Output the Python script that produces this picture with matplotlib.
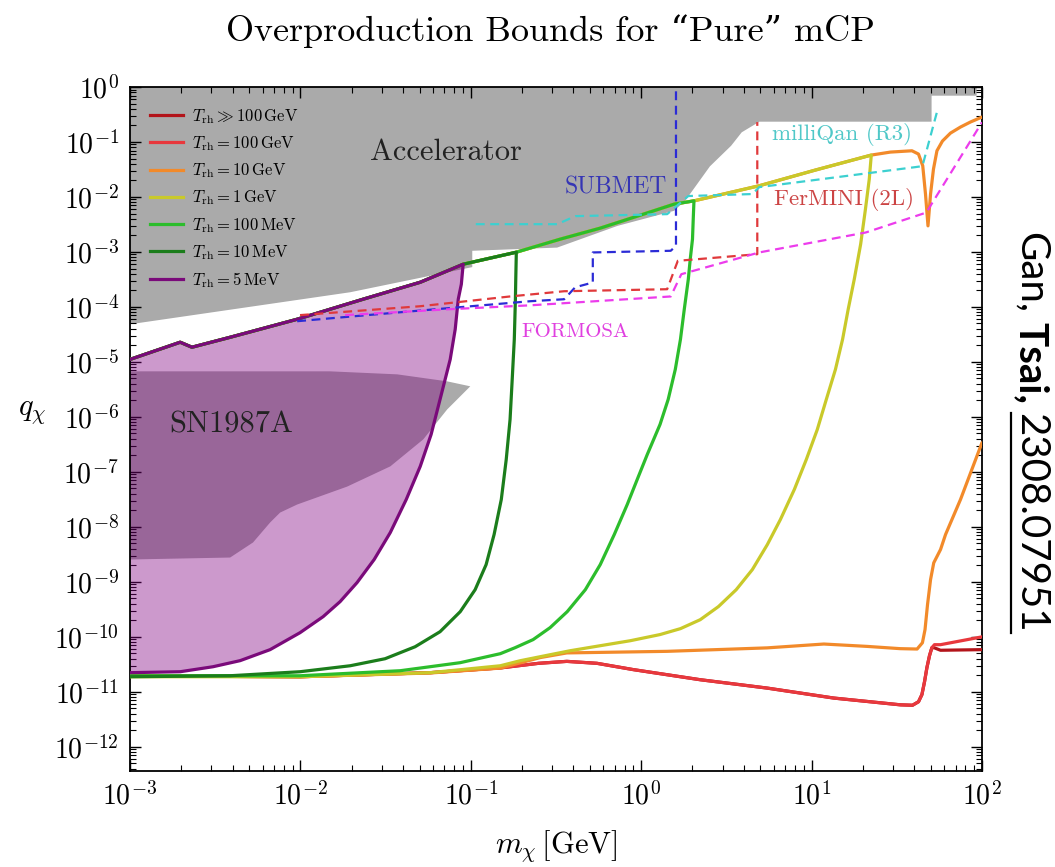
import numpy as np
import matplotlib
matplotlib.use("Agg")
import matplotlib.pyplot as plt
from matplotlib.ticker import NullFormatter
from matplotlib.lines import Line2D

plt.rcParams['font.family'] = ['cmr10', 'DejaVu Serif']
plt.rcParams['mathtext.fontset'] = 'cm'
plt.rcParams['axes.formatter.use_mathtext'] = True

# ---- data ----
# accelerator excluded region (lower boundary, closed along the top)
acc_m = [1e-3, 0.0196, 0.102, 0.102, 0.321, 0.726, 1.56, 1.81, 2.53, 3.37, 3.89, 4.94, 50.6, 50.6, 93.0, 93.0, 1e-3]
acc_q = [4.84e-5, 1.85e-4, 5.3e-4, 1.05e-3, 1.2e-3, 2.98e-3, 5.6e-3, 8.5e-3, 0.036, 0.0853, 0.15, 0.234, 0.234, 0.695, 0.695, 1.0, 1.0]

# SN1987A region
sn_m = [1e-3, 0.0149, 0.037, 0.0727, 0.0993, 0.0727, 0.0526, 0.0337, 0.0188, 9.57e-3, 7.6e-3, 6.64e-3, 5.27e-3, 3.87e-3, 1e-3]
sn_q = [6.74e-6, 6.74e-6, 5.94e-6, 4.43e-6, 3.6e-6, 1.37e-6, 3.9e-7, 1.26e-7, 5.4e-8, 2.55e-8, 1.82e-8, 1.2e-8, 5.2e-9, 2.77e-9, 2.55e-9]

# common upper edge of the overproduction bounds
env_m = [1e-3, 1.97e-3, 2.31e-3, 3.86e-3, 9.57e-3, 0.0233, 0.0505, 0.0902, 0.185, 0.335, 0.575, 0.989, 1.56, 2.04,
         4.93, 10.5, 22.4, 29.0, 38.8, 42.4, 44.9, 46.6, 48.2, 49.9, 51.9, 54.4, 58.6, 65.3, 74.8, 85.6, 100]
env_q = [1.11e-5, 2.28e-5, 1.85e-5, 2.8e-5, 5.97e-5, 1.38e-4, 2.81e-4, 5.98e-4, 9.9e-4, 1.71e-3, 2.71e-3, 4.67e-3, 7.4e-3, 8.5e-3,
         0.016, 0.0308, 0.0578, 0.0655, 0.0692, 0.0603, 0.0369, 0.0113, 2.98e-3, 0.0113, 0.0321, 0.0692, 0.104, 0.145, 0.187, 0.231, 0.284]

# right/lower branches of each T_rh curve
p_m = [0.088, 0.0844, 0.081, 0.0757, 0.066, 0.0585, 0.0505, 0.0418, 0.0337, 0.0271, 0.0215, 0.0171, 0.0136, 9.95e-3,
       6.64e-3, 4.43e-3, 3.07e-3, 1.97e-3, 1e-3]
p_q = [2.59e-4, 1.38e-4, 3.92e-5, 1.11e-5, 2.08e-6, 4.8e-7, 1.26e-7, 3.15e-8, 7.9e-9, 2.55e-9, 9.7e-10, 4.37e-10, 2.33e-10, 1.19e-10,
       5.85e-11, 3.69e-11, 2.86e-11, 2.32e-11, 2.23e-11]

dg_m = [0.1836, 0.1827, 0.180, 0.175, 0.170, 0.1614, 0.151, 0.137, 0.123, 0.106, 0.0867, 0.066, 0.0471, 0.0314, 0.0196,
        9.95e-3, 3.86e-3, 1e-3]
dg_q = [3.19e-4, 1.38e-4, 2.58e-5, 4.82e-6, 9.0e-7, 1.68e-7, 3.15e-8, 7.26e-9, 2.06e-9, 7.2e-10, 2.87e-10, 1.24e-10, 6.6e-11, 4.0e-11,
        2.98e-11, 2.32e-11, 1.96e-11, 1.88e-11]

lg_m = [2.02, 2.0, 1.94, 1.89, 1.79, 1.70, 1.585, 1.44, 1.29, 1.086, 0.948, 0.828, 0.695, 0.575, 0.47, 0.368, 0.292, 0.232,
        0.182, 0.149, 0.0867, 0.0385, 9.95e-3, 1e-3]
lg_q = [3.95e-3, 1.71e-3, 7.4e-4, 3.19e-4, 9.1e-5, 2.58e-5, 7.3e-6, 2.08e-6, 7.3e-7, 2.08e-7, 7.3e-8, 2.55e-8, 7.26e-9, 2.06e-9,
        7.2e-10, 2.87e-10, 1.47e-10, 8.9e-11, 6.35e-11, 4.94e-11, 3.39e-11, 2.42e-11, 1.96e-11, 1.96e-11]

y_m = [21.8, 20.7, 19.4, 17.8, 16.4, 15.2, 13.8, 12.2, 10.8, 9.31, 7.92, 6.56, 5.50, 4.49, 3.61, 2.84, 2.22, 1.70, 1.29,
       0.863, 0.575, 0.384, 0.292, 0.195, 0.149, 0.0578, 9.95e-3, 1e-3]
y_q = [0.0211, 6.0e-3, 1.38e-3, 3.19e-4, 9.1e-5, 2.58e-5, 7.3e-6, 2.08e-6, 5.9e-7, 1.68e-7, 4.79e-8, 1.36e-8, 4.77e-9, 1.67e-9,
       7.2e-10, 3.55e-10, 2.05e-10, 1.41e-10, 1.1e-10, 8.5e-11, 6.9e-11, 5.6e-11, 4.73e-11, 3.68e-11, 2.98e-11, 2.23e-11, 1.88e-11, 1.88e-11]

o_m = [100, 74.8, 61.1, 57.1, 52.1, 49.9, 47.9, 46.3, 44.7, 41.6, 33.0, 21.2, 11.8, 5.48, 1.42, 0.366, 0.256, 0.149, 0.0578, 9.95e-3, 1e-3]
o_q = [3.4e-7, 3.15e-8, 7.26e-9, 3.87e-9, 2.22e-9, 1.1e-9, 3.86e-10, 1.35e-10, 7.8e-11, 6.0e-11, 6.1e-11, 6.7e-11, 7.4e-11, 6.3e-11,
       5.45e-11, 5.1e-11, 4.2e-11, 2.7e-11, 2.2e-11, 1.88e-11, 1.95e-11]

r_m = [1e-3, 9.95e-3, 0.0578, 0.149, 0.25, 0.366, 0.55, 0.902, 2.22, 5.48, 13.5, 33.2, 39.1, 42.4, 44.4, 46.0, 47.5, 49.2, 50.8, 52.6, 57.1, 100]
r_q = [1.95e-11, 1.88e-11, 2.23e-11, 2.72e-11, 3.3e-11, 3.58e-11, 3.3e-11, 2.53e-11, 1.66e-11, 1.17e-11, 7.7e-12, 5.8e-12, 5.7e-12,
       6.6e-12, 8.9e-12, 1.53e-11, 2.75e-11, 4.55e-11, 6.35e-11, 7.2e-11, 7.2e-11, 1.0e-10]
dr_q = [1.95e-11, 1.88e-11, 2.23e-11, 2.72e-11, 3.3e-11, 3.58e-11, 3.3e-11, 2.53e-11, 1.66e-11, 1.17e-11, 7.7e-12, 5.8e-12, 5.7e-12,
        6.6e-12, 8.9e-12, 1.53e-11, 2.75e-11, 4.55e-11, 6.35e-11, 6.3e-11, 5.7e-11, 5.85e-11]

# experimental projections (dashed)
submet_m = [9.57e-3, 0.0385, 0.223, 0.353, 0.41, 0.52, 0.52, 1.49, 1.6, 1.6]
submet_q = [5.5e-5, 8.0e-5, 1.27e-4, 1.38e-4, 2.28e-4, 2.78e-4, 9.8e-4, 1.05e-3, 1.29e-3, 0.92]
fermini_m = [9.95e-3, 0.0505, 0.173, 0.353, 1.42, 1.64, 4.8, 4.8]
fermini_q = [7.1e-5, 1.03e-4, 1.56e-4, 1.93e-4, 2.1e-4, 6.9e-4, 9.1e-4, 0.23]
formosa_m = [0.0183, 0.0757, 0.223, 1.49, 1.72, 4.93, 20.8, 47.1, 100]
formosa_q = [7.1e-5, 9.1e-5, 1.07e-4, 1.55e-4, 3.94e-4, 9.8e-4, 2.26e-3, 5.2e-3, 0.228]
milliqan_m = [0.107, 0.322, 0.41, 1.42, 1.89, 4.49, 4.93, 40.6, 44.7, 54.4]
milliqan_q = [3.2e-3, 3.2e-3, 4.48e-3, 4.87e-3, 0.0104, 0.0113, 0.0151, 0.0349, 0.0364, 0.35]

trh_labels = [r'$T_{\rm rh} \gg 100\,{\rm GeV}$', r'$T_{\rm rh} = 100\,{\rm GeV}$', r'$T_{\rm rh} = 10\,{\rm GeV}$',
              r'$T_{\rm rh} = 1\,{\rm GeV}$', r'$T_{\rm rh} = 100\,{\rm MeV}$', r'$T_{\rm rh} = 10\,{\rm MeV}$',
              r'$T_{\rm rh} = 5\,{\rm MeV}$']
trh_colors = ['#b3141a', '#e8383d', '#f28a2a', '#c9c92a', '#2cbd2c', '#1b7d1b', '#7a0a7a']

# ---- figure ----
fig = plt.figure(figsize=(10.55, 8.67), dpi=100)
ax = fig.add_axes([130/1055, 1-771/867, 852/1055, 684/867])
ax.set_xscale('log')
ax.set_yscale('log')

gray = '#aaaaaa'
ax.fill(acc_m, acc_q, color=gray, lw=0, zorder=1)
ax.fill(sn_m, sn_q, color=gray, lw=0, zorder=1)

lw = 2.3
def with_env(k, bm, bq):
    return np.r_[env_m[:k], bm], np.r_[env_q[:k], bq]

kw = dict(lw=lw, zorder=3, solid_joinstyle='round', solid_capstyle='round')
ax.plot(r_m, dr_q, color=trh_colors[0], **kw)
ax.plot(r_m, r_q, color=trh_colors[1], **kw)
ax.plot(np.r_[env_m, np.nan, o_m], np.r_[env_q, np.nan, o_q], color=trh_colors[2], **kw)
ax.plot(*with_env(17, y_m, y_q), color=trh_colors[3], **kw)
ax.plot(*with_env(14, lg_m, lg_q), color=trh_colors[4], **kw)
ax.plot(*with_env(9, dg_m, dg_q), color=trh_colors[5], **kw)
pm, pq = with_env(8, p_m, p_q)
ax.fill(pm, pq, color='#800080', alpha=0.4, lw=0, zorder=2)
ax.plot(pm, pq, color=trh_colors[6], **kw)

dash = (0, (4, 2.5))
ax.plot(submet_m, submet_q, color='#2b2bd6', lw=1.6, ls=dash, zorder=4)
ax.plot(fermini_m, fermini_q, color='#e0393b', lw=1.6, ls=dash, zorder=4)
ax.plot(formosa_m, formosa_q, color='#ec3cec', lw=1.6, ls=dash, zorder=4)
ax.plot(milliqan_m, milliqan_q, color='#3cd0d0', lw=1.6, ls=dash, zorder=4)

ax.text(0.0718, 0.0655, 'Accelerator', fontsize=22, ha='center', va='center', color='#222222', zorder=5)
ax.text(3.94e-3, 7.3e-7, 'SN1987A', fontsize=22, ha='center', va='center', color='#222222', zorder=5)
ax.text(0.705, 0.0151, 'SUBMET', fontsize=17, ha='center', va='center', color='#3535b5', zorder=5)
ax.text(15.0, 0.139, 'milliQan (R3)', fontsize=16.5, ha='center', va='center', color='#50c8c8', zorder=5)
ax.text(15.4, 9.1e-3, 'FerMINI (2L)', fontsize=16.5, ha='center', va='center', color='#cc4444', zorder=5)
ax.text(0.41, 3.46e-5, 'FORMOSA', fontsize=15, ha='center', va='center', color='#e040e0', zorder=5)

handles = [Line2D([], [], color=c, lw=2.3) for c in trh_colors]
ax.legend(handles, trh_labels, loc='upper left', frameon=False, fontsize=12, handlelength=2.0,
          handletextpad=0.5, labelspacing=0.5, borderaxespad=0.8)

ymin = 10**-12.44
ax.set_xlim(1e-3, 1e2)
ax.set_ylim(ymin, 1)
ax.set_xticks(10.0**np.arange(-3, 3))
ax.set_xticks([m*10.0**e for e in range(-3, 2) for m in range(2, 10)], minor=True)
ax.set_yticks(10.0**np.arange(-12, 1))
ax.set_yticks([m*10.0**e for e in range(-13, 0) for m in range(2, 10) if m*10.0**e >= ymin], minor=True)
ax.xaxis.set_minor_formatter(NullFormatter())
ax.yaxis.set_minor_formatter(NullFormatter())
ax.tick_params(which='both', direction='in', top=True, right=True, labelsize=20, pad=8)
ax.tick_params(which='major', length=8, width=1.0)
ax.tick_params(which='minor', length=4, width=0.8)
for s in ax.spines.values():
    s.set_linewidth(1.3)

ax.set_xlabel(r'$m_\chi\,[\mathrm{GeV}]$', fontsize=22)
ax.xaxis.set_label_coords(0.5, -0.084)
ax.set_ylabel(r'$q_\chi$', fontsize=22, rotation=0, ha='center', va='center')
ax.yaxis.set_label_coords(-0.115, 0.525)

fig.text(550/1055, 1-31/867, 'Overproduction Bounds for \u201cPure\u201d mCP', ha='center', va='center', fontsize=26)

# citation on the right, rotated
fig.canvas.draw()
ren = fig.canvas.get_renderer()
W, H = fig.bbox.width, fig.bbox.height
ytop = 867 - 232
pieces = [('Gan,', 'normal', False), ('Tsai,', 'bold', False), ('2308.07951', 'normal', True)]
for txt, wt, ul in pieces:
    t = fig.text(1031/W, ytop/H, txt, rotation=-90, ha='center', va='top', fontsize=29,
                 family=['Lato', 'DejaVu Sans'], weight=wt)
    bb = t.get_window_extent(ren)
    if ul:
        fig.add_artist(Line2D([(bb.x0-2)/W]*2, [bb.y0/H, bb.y1/H], transform=fig.transFigure, color='k', lw=1.6))
    ytop = bb.y0 - 9

fig.savefig('out.png', dpi=100)
